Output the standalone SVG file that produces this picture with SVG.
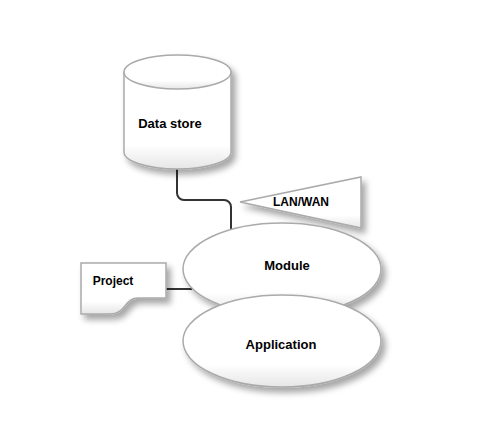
<svg xmlns="http://www.w3.org/2000/svg" width="477" height="437" viewBox="0 0 477 437">
<defs>
<linearGradient id="g" x1="0" y1="0" x2="0" y2="1">
<stop offset="0" stop-color="#ffffff"/>
<stop offset="0.75" stop-color="#ffffff"/>
<stop offset="1" stop-color="#e6e6e6"/>
</linearGradient>
<filter id="sh" x="-20%" y="-20%" width="150%" height="150%">
<feDropShadow dx="4" dy="5" stdDeviation="3" flood-color="#000" flood-opacity="0.35"/>
</filter>
</defs>
<style>
.n{fill:url(#g);stroke:#aaaaaa;stroke-width:1.5}
.t{font-family:"Liberation Sans",Arial,sans-serif;font-weight:bold;fill:#000;text-anchor:middle}
.c{fill:none;stroke:#333333;stroke-width:2}
</style>
<rect width="477" height="437" fill="#ffffff"/>
<g id="connectors">
<path class="c" d="M177,168 V193 A7,7 0 0 0 184,200 H224 A7,7 0 0 1 231,207 V230"/>
<path class="c" d="M165,289 H192"/>
</g>
<g id="datastore">
<g filter="url(#sh)">
<path class="n" d="M124,72 V152 A53.5,17 0 0 0 231,152 V72 Z"/>
<ellipse class="n" cx="177.5" cy="72" rx="53.5" ry="17"/>
</g>
<text class="t" x="170" y="128" font-size="13">Data store</text>
</g>
<g id="lanwan">
<polygon class="n" points="240,202 361,177 361,228" filter="url(#sh)"/>
<text class="t" x="301" y="206" font-size="12">LAN/WAN</text>
</g>
<g id="project">
<path class="n" d="M81,263 H166 V298 H138 C124,298 126,314 110,314 H81 Z" filter="url(#sh)"/>
<text class="t" x="113" y="285" font-size="12">Project</text>
</g>
<g id="module">
<ellipse class="n" cx="282" cy="269" rx="99" ry="46" filter="url(#sh)"/>
<text class="t" x="287" y="270" font-size="13">Module</text>
</g>
<g id="application">
<ellipse class="n" cx="282" cy="341" rx="99" ry="46" filter="url(#sh)"/>
<text class="t" x="281" y="349" font-size="13">Application</text>
</g>
</svg>
